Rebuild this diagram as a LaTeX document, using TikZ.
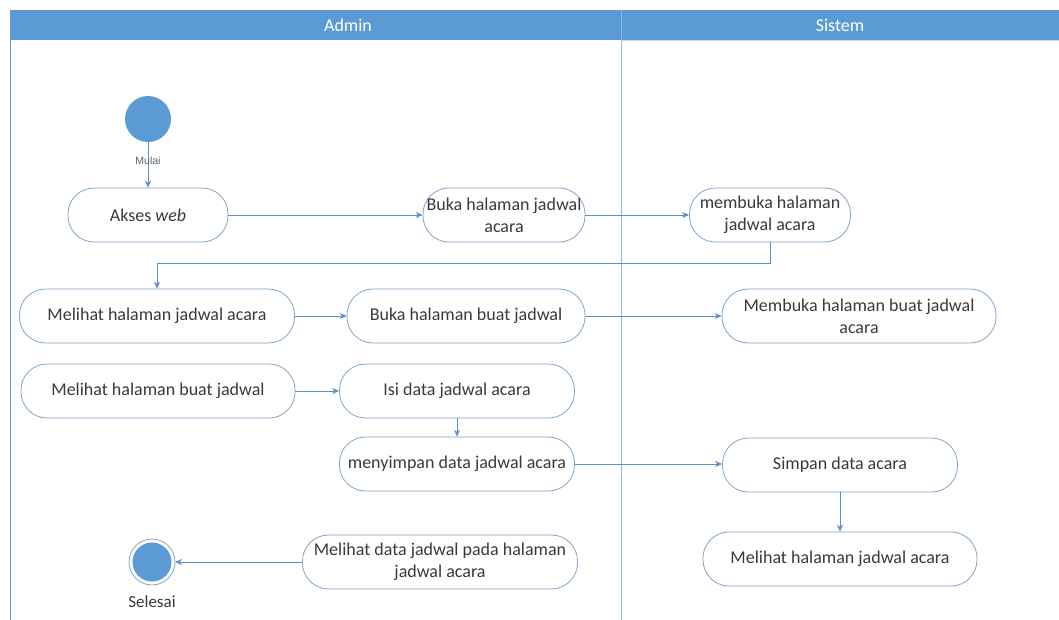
\documentclass[tikz,border=0pt]{standalone}
\usepackage{fontspec}
\setmainfont{Carlito}
\newfontfamily\smallsans{Liberation Sans}
\usetikzlibrary{arrows.meta}
\definecolor{lane}{HTML}{5B9BD5}
\definecolor{flow}{HTML}{5B8FC8}
\definecolor{edge}{HTML}{7FA6CC}
\definecolor{ink}{HTML}{3A3A3A}
\tikzset{
  act/.style={draw=edge, line width=0.8pt, fill=white, rounded corners=26pt,
    minimum height=54pt, inner sep=0pt, align=center, text=ink,
    font=\fontsize{18}{22}\selectfont},
  flowline/.style={draw=flow, line width=0.8pt, -{Stealth[length=7pt,width=6pt]}},
  lanetitle/.style={text=white, font=\fontsize{18}{20}\selectfont}
}
\begin{document}
\begin{tikzpicture}[x=1pt,y=-1pt]
\useasboundingbox (0,0) rectangle (1059,620);
\fill[white] (0,0) rectangle (1059,620);

% swimlane frame
\fill[lane] (10,10) rectangle (1059,40);
\draw[lane, line width=0.8pt] (10,40) -- (10,620);
\draw[lane!70, line width=0.8pt] (621,10) -- (621,620);
\draw[lane!40, line width=0.6pt] (621,40) -- (1059,40);
\node[lanetitle] (admin) at (348,25) {Admin};
\node[lanetitle] (sistem) at (840,25) {Sistem};

% start and end
\fill[lane] (148,119) circle (23);
\coordinate (start) at (148,142);

\draw[edge, line width=0.8pt, fill=white] (152,562) circle (23);
\fill[lane] (152,562) circle (19.5);
\coordinate (stop) at (175,562);
\node[text=ink, font=\fontsize{17}{20}\selectfont] (selesai) at (152,602) {Selesai};

% Admin lane
\node[act, minimum width=160pt] (akses) at (148,215) {Akses \textit{web}};
\node[act, minimum width=162pt] (buka) at (504,215) {Buka halaman jadwal\\acara};
\node[act, minimum width=275pt] (lihat) at (157,316) {Melihat halaman jadwal acara};
\node[act, minimum width=238pt] (bukabuat) at (466,316) {Buka halaman buat jadwal};
\node[act, minimum width=274pt] (lihatbuat) at (158,391) {Melihat halaman buat jadwal};
\node[act, minimum width=235pt] (isi) at (457,391) {Isi data jadwal acara};
\node[act, minimum width=235pt] (simpan) at (457,464) {menyimpan data jadwal acara};
\node[act, minimum width=275pt] (lihatdata) at (440,562) {Melihat data jadwal pada halaman\\jadwal acara};

% Sistem lane
\node[act, minimum width=161pt] (membuka) at (770,215) {membuka halaman\\jadwal acara};
\node[act, minimum width=274pt] (membukabuat) at (859,316) {Membuka halaman buat jadwal\\acara};
\node[act, minimum width=235pt] (simpandata) at (840,465) {Simpan data acara};
\node[act, minimum width=274pt] (lihatsis) at (840,559) {Melihat halaman jadwal acara};

% flow
\draw[flowline] (start) -- (akses.north);
\draw[flowline] (akses.east) -- (buka.west);
\draw[flowline] (buka.east) -- (membuka.west);
\draw[flowline] (membuka.south) -- ++(0,21) -| (lihat.north);
\draw[flowline] (lihat.east) -- (bukabuat.west);
\draw[flowline] (bukabuat.east) -- (membukabuat.west);
\draw[flowline] (lihatbuat.east) -- (isi.west);
\draw[flowline] (isi.south) -- (simpan.north);
\draw[flowline] (simpan.east) -- (simpan.east -| simpandata.west);
\draw[flowline] (simpandata.south) -- (lihatsis.north);
\draw[flowline] (lihatdata.west) -- (stop);

% label on the first flow, drawn over the line
\node[text=ink!80, font=\smallsans\fontsize{10.5}{12}\selectfont] (mulai) at (148,161) {Mulai};
\end{tikzpicture}
\end{document}
